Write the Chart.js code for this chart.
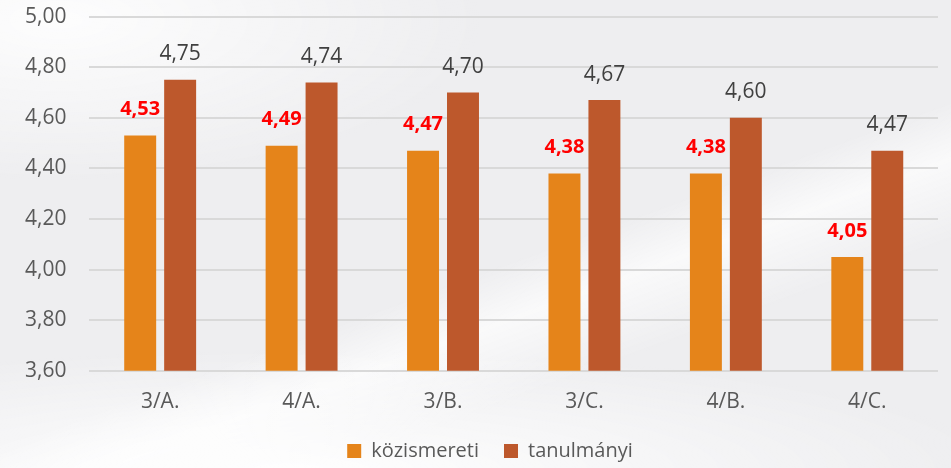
<!DOCTYPE html>
<html>
<head>
<meta charset="utf-8">
<script src="https://cdn.jsdelivr.net/npm/chart.js@4/dist/chart.umd.min.js"></script>
<style>
  html, body { margin: 0; padding: 0; }
  body {
    width: 951px; height: 468px; overflow: hidden;
    background:
      radial-gradient(ellipse 420px 160px at 60px 20px, rgba(255,255,255,0.9), rgba(255,255,255,0) 100%),
      radial-gradient(ellipse 700px 120px at 300px 470px, rgba(255,255,255,0.95), rgba(255,255,255,0) 100%),
      linear-gradient(160deg, rgba(255,255,255,0) 55%, rgba(255,255,255,0.7) 62%, rgba(255,255,255,0) 72%),
      #eeeef0;
  }
  #wrap { position: absolute; left: 0; top: -19px; width: 951px; height: 500px; }
</style>
</head>
<body>
<div id="wrap"><canvas id="chart"></canvas></div>
<script>
const categories = ['3/A.', '4/A.', '3/B.', '3/C.', '4/B.', '4/C.'];
const kozismereti = [4.53, 4.49, 4.47, 4.38, 4.38, 4.05];
const tanulmanyi = [4.75, 4.74, 4.70, 4.67, 4.60, 4.47];
const seriesNames = ['közismereti', 'tanulmányi'];

const fmt = v => v.toFixed(2).replace('.', ',');

// value labels above each bar
const barLabels = {
    id: 'barLabels',
    afterDatasetsDraw(chart) {
        const ctx = chart.ctx;
        ctx.save();
        ctx.textAlign = 'center';
        ctx.textBaseline = 'bottom';
        chart.data.datasets.forEach((ds, i) => {
            const meta = chart.getDatasetMeta(i);
            let gap;
            if (i === 0) {
                ctx.fillStyle = '#ff0000';
                ctx.font = 'bold 20px "Open Sans"';
                gap = 16;
            } else {
                ctx.fillStyle = '#404040';
                ctx.font = '21px "Open Sans"';
                gap = 15;
            }
            meta.data.forEach((bar, j) => {
                ctx.fillText(fmt(ds.data[j]), bar.x, bar.y - gap);
            });
        });
        ctx.restore();
    }
};

// nudge the legend a bit to the right and back up
const legendShift = {
    id: 'legendShift',
    afterLayout(chart) {
        const lg = chart.legend;
        lg.left += 20; lg.right += 20;
        lg.top -= 10; lg.bottom -= 10;
    }
};

new Chart(document.getElementById('chart').getContext('2d'), {
    type: 'bar',
    data: {
        labels: categories,
        datasets: [{
            label: seriesNames[0],
            data: kozismereti,
            backgroundColor: '#e5841a',
            barPercentage: 0.8,
            categoryPercentage: 0.565
        }, {
            label: seriesNames[1],
            data: tanulmanyi,
            backgroundColor: '#bd582c',
            barPercentage: 0.8,
            categoryPercentage: 0.565
        }]
    },
    options: {
        responsive: true,
        maintainAspectRatio: false,
        animation: false,
        layout: { padding: { top: -11, right: 13, left: 2, bottom: 0 } },
        scales: {
            x: {
                grid: { display: false },
                border: { display: false },
                ticks: { color: '#595959', font: { family: 'Open Sans', size: 21 }, padding: 11 }
            },
            y: {
                min: 3.6,
                max: 5.0,
                border: { display: false },
                grid: { color: '#d9d9d9', lineWidth: 2, drawTicks: false },
                ticks: {
                    stepSize: 0.2,
                    color: '#595959',
                    font: { family: 'Open Sans', size: 21 },
                    padding: 23,
                    callback: v => fmt(v)
                }
            }
        },
        plugins: {
            legend: {
                position: 'bottom',
                labels: {
                    color: '#595959',
                    font: { family: 'Open Sans', size: 20 },
                    boxWidth: 14,
                    boxHeight: 14,
                    padding: 25
                }
            },
            tooltip: { enabled: false }
        }
    },
    plugins: [barLabels, legendShift]
});
</script>
</body>
</html>
